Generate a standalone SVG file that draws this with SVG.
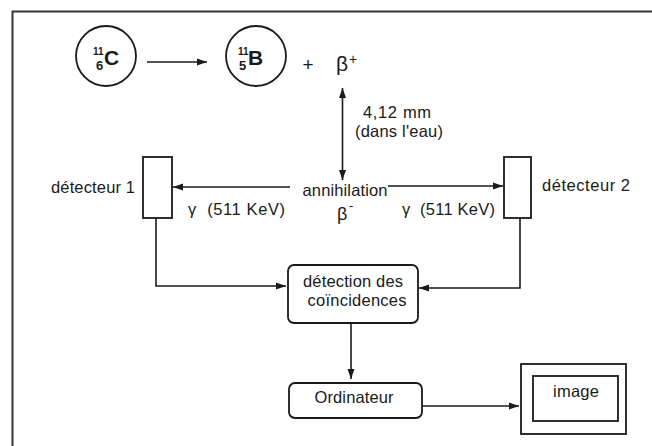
<svg xmlns="http://www.w3.org/2000/svg" width="652" height="446" viewBox="0 0 652 446">
<style>
text{font-family:"Liberation Sans",Arial,sans-serif;fill:#1a1a1a}
.t{font-size:16.5px}
.ln{fill:none;stroke:#1a1a1a;stroke-width:1.6}
.box{fill:#fff;stroke:#1a1a1a;stroke-width:1.8}
</style>
<defs>
<marker id="ah" viewBox="0 0 10 8" refX="10" refY="4" markerWidth="10" markerHeight="8" markerUnits="userSpaceOnUse" orient="auto-start-reverse">
<path d="M0,0.5 L10,4 L0,7.5 Z" fill="#1a1a1a"/>
</marker>
</defs>
<rect width="652" height="446" fill="#fff"/>
<g id="frame">
<line x1="12" y1="11.5" x2="652" y2="11.5" stroke="#333" stroke-width="2"/>
<line x1="12.5" y1="11" x2="12.5" y2="446" stroke="#333" stroke-width="2"/>
</g>
<g id="carbon">
<circle cx="106" cy="56" r="30" class="box"/>
<text x="93" y="55" font-size="10" font-weight="bold">11</text>
<text x="104" y="65" font-size="21" font-weight="bold">C</text>
<text x="96" y="70" font-size="13" font-weight="bold">6</text>
</g>
<g id="boron">
<circle cx="256" cy="56" r="30" class="box"/>
<text x="238" y="55" font-size="10" font-weight="bold">11</text>
<text x="248" y="65" font-size="21" font-weight="bold">B</text>
<text x="239" y="70" font-size="13" font-weight="bold">5</text>
</g>
<g id="plus"><text x="308" y="71" font-size="19" text-anchor="middle">+</text></g>
<g id="betaplus"><text x="336" y="71" font-size="21">β</text><text x="349" y="64" font-size="14">+</text></g>
<g id="distance">
<text x="397" y="118" class="t" text-anchor="middle" textLength="68">4,12 mm</text>
<text x="399" y="137" class="t" text-anchor="middle" textLength="88">(dans l'eau)</text>
</g>
<g id="annihilation">
<text x="345" y="196" class="t" text-anchor="middle" textLength="85">annihilation</text>
<text x="337" y="220" font-size="18">β</text><text x="349" y="210" font-size="13">-</text>
</g>
<g id="detecteur1">
<rect x="143" y="157" width="29" height="61" class="box"/>
<text x="51" y="193" class="t" textLength="84">détecteur 1</text>
<text x="188" y="215" class="t" xml:space="preserve" textLength="97">γ  (511 KeV)</text>
</g>
<g id="detecteur2">
<rect x="504" y="157" width="27" height="61" class="box"/>
<text x="542" y="191" class="t" textLength="88">détecteur 2</text>
<text x="402" y="215" class="t" xml:space="preserve" textLength="93">γ  (511 KeV)</text>
</g>
<g id="coincidences">
<rect x="288" y="265" width="130" height="58" rx="6" class="box"/>
<text x="353" y="287" class="t" text-anchor="middle" textLength="100">détection des</text>
<text x="357" y="306" class="t" text-anchor="middle" textLength="99">coïncidences</text>
</g>
<g id="ordinateur">
<rect x="289" y="383" width="133" height="35" rx="6" class="box"/>
<text x="354" y="403" class="t" text-anchor="middle" textLength="79">Ordinateur</text>
</g>
<g id="image">
<rect x="521" y="364" width="105" height="70" class="box"/>
<rect x="533" y="376" width="85" height="45" class="box"/>
<text x="576" y="397" class="t" text-anchor="middle" textLength="46">image</text>
</g>
<g id="connectors">
<line x1="147" y1="62" x2="207" y2="62" class="ln" marker-end="url(#ah)"/>
<line x1="342.5" y1="88" x2="342.5" y2="180" class="ln" marker-start="url(#ah)" marker-end="url(#ah)"/>
<line x1="290" y1="187" x2="173" y2="187" class="ln" marker-end="url(#ah)"/>
<line x1="388" y1="186" x2="503" y2="186" class="ln" marker-end="url(#ah)"/>
<polyline points="156,218 156,286 286,286" class="ln" marker-end="url(#ah)"/>
<polyline points="520,218 520,288 419,288" class="ln" marker-end="url(#ah)"/>
<line x1="351" y1="324" x2="351" y2="379" class="ln" marker-end="url(#ah)"/>
<line x1="422" y1="406" x2="519" y2="406" class="ln" marker-end="url(#ah)"/>
</g>
</svg>
